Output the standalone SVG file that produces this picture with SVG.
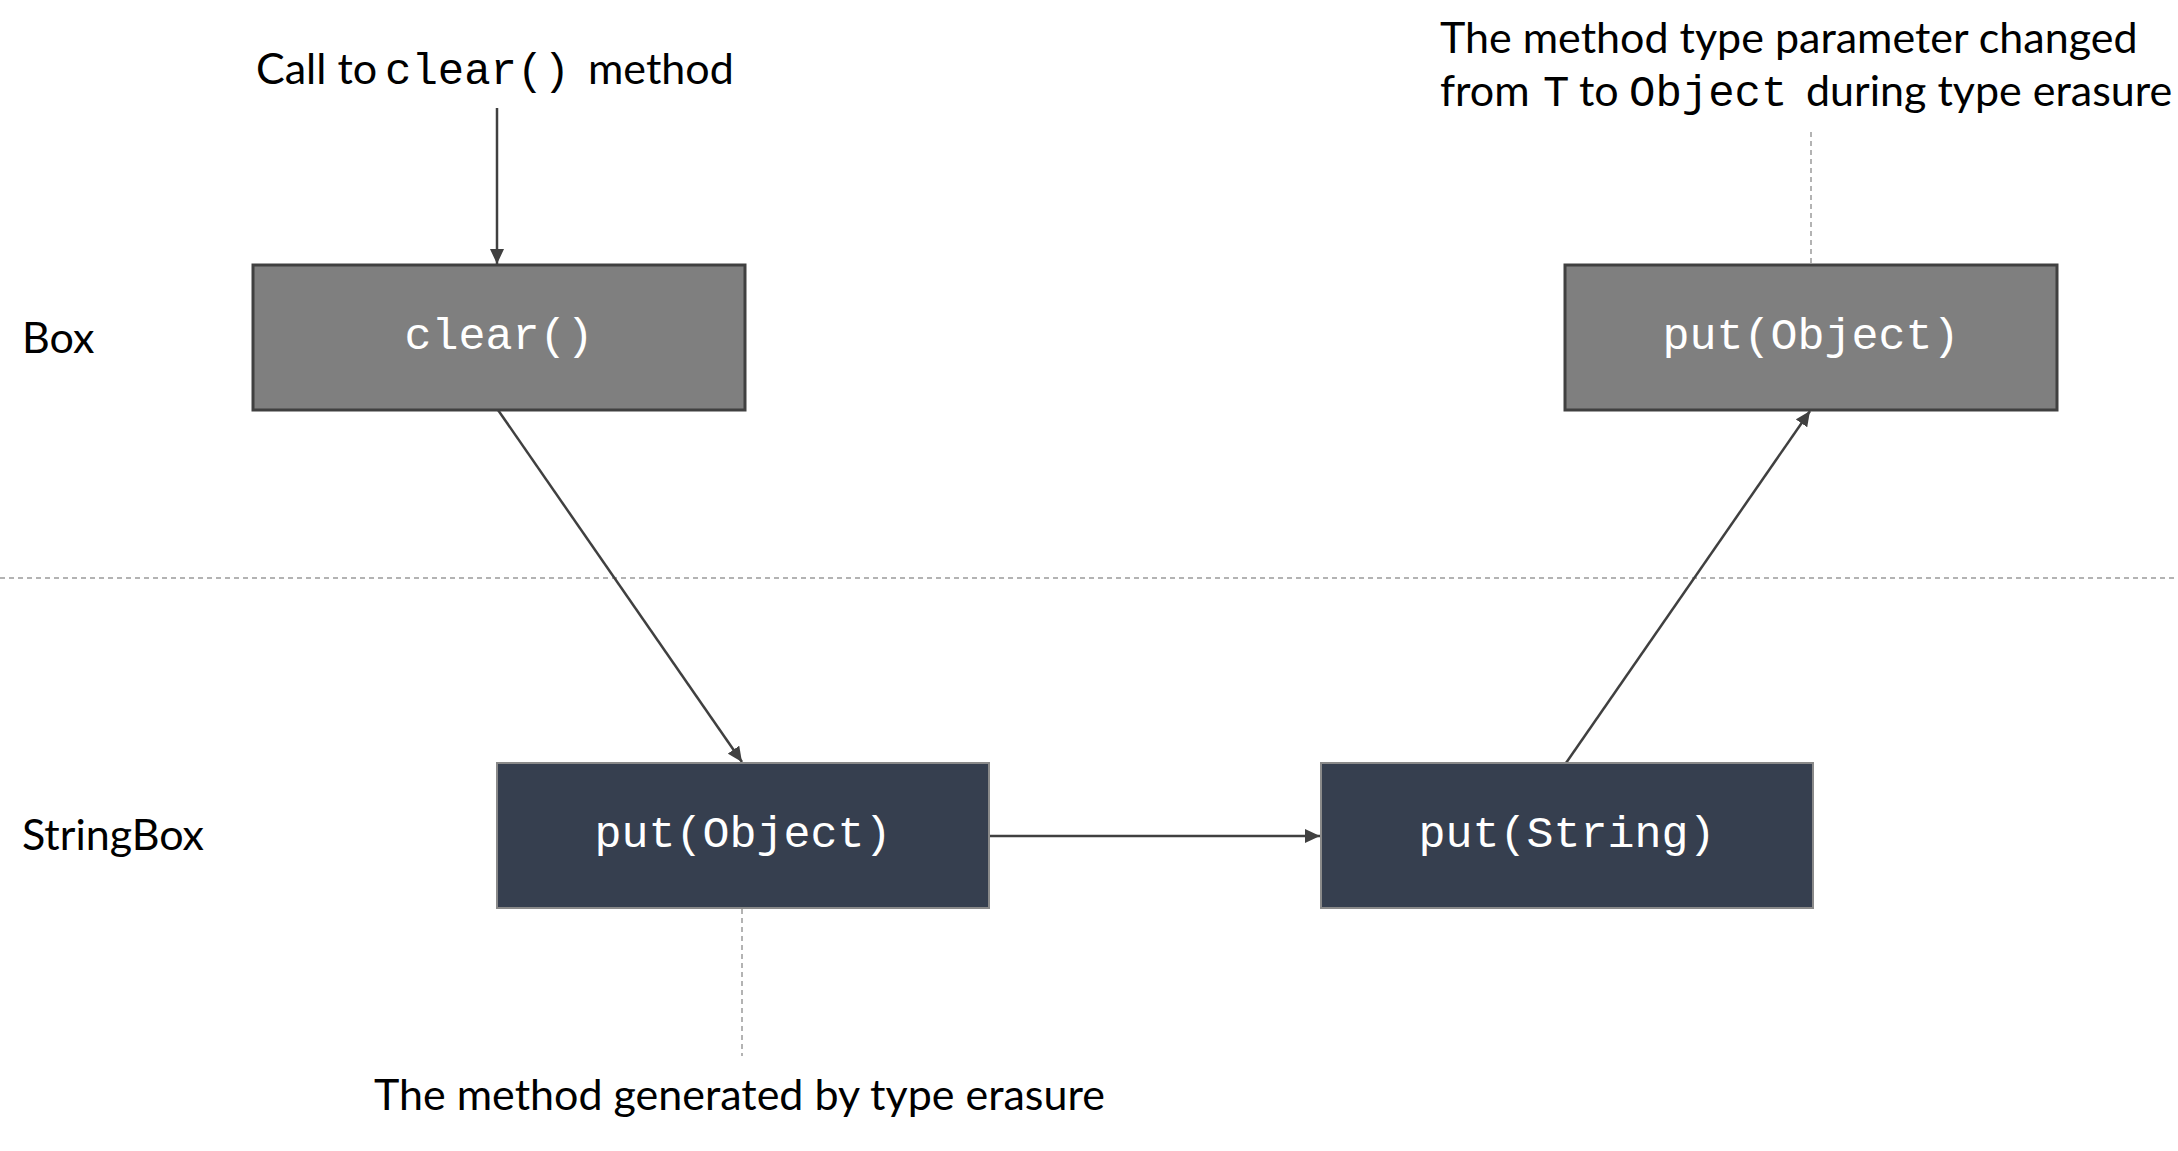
<svg xmlns="http://www.w3.org/2000/svg" width="2178" height="1151" viewBox="0 0 2178 1151">
<style>
.sans{font-family:"Lato","Liberation Sans",sans-serif;font-size:43px;fill:#000}
.mono{font-family:"Liberation Mono","DejaVu Sans Mono",monospace;font-size:44px}
.boxtext{font-family:"Liberation Mono","DejaVu Sans Mono",monospace;font-size:45px;fill:#fff;text-anchor:middle;dominant-baseline:central}
.base{fill:#7f7f7f;stroke:#404040;stroke-width:3}
.sub{fill:#363f4f;stroke:#8a8a8a;stroke-width:2}
.conn{stroke:#404040;stroke-width:2.5;fill:none}
.dash{stroke:#9a9a9a;stroke-width:1.5;stroke-dasharray:5 4;fill:none}
</style>
<defs>
<marker id="arr" markerUnits="userSpaceOnUse" markerWidth="16" markerHeight="14" refX="15" refY="7" orient="auto">
<path d="M0,0 L15,7 L0,14 z" fill="#404040"/>
</marker>
</defs>
<rect width="2178" height="1151" fill="#fff"/>
<g id="guides">
<line class="dash" x1="0" y1="578" x2="2178" y2="578"/>
</g>
<g id="labels">
<text class="sans" x="22" y="353">Box</text>
<text class="sans" x="22" y="850">StringBox</text>
</g>
<g id="connectors">
<line class="conn" x1="497" y1="108" x2="497" y2="264" marker-end="url(#arr)"/>
<line class="conn" x1="498" y1="410" x2="742" y2="762" marker-end="url(#arr)"/>
<line class="conn" x1="989" y1="836" x2="1320" y2="836" marker-end="url(#arr)"/>
<line class="conn" x1="1566" y1="763" x2="1810" y2="411" marker-end="url(#arr)"/>
<line class="dash" x1="1811" y1="132" x2="1811" y2="265"/>
<line class="dash" x1="742" y1="909" x2="742" y2="1056"/>
</g>
<g id="node-clear">
<rect class="base" x="253" y="265" width="492" height="145"/>
<text class="boxtext" x="499" y="337">clear()</text>
</g>
<g id="node-box-put">
<rect class="base" x="1565" y="265" width="492" height="145"/>
<text class="boxtext" x="1811" y="337">put(Object)</text>
</g>
<g id="node-sb-putobject">
<rect class="sub" x="497" y="763" width="492" height="145"/>
<text class="boxtext" x="743" y="835">put(Object)</text>
</g>
<g id="node-sb-putstring">
<rect class="sub" x="1321" y="763" width="492" height="145"/>
<text class="boxtext" x="1567" y="835">put(String)</text>
</g>
<g id="note-call">
<text class="sans" x="256" y="84">Call to <tspan class="mono" x="385">clear()</tspan><tspan x="588">method</tspan></text>
</g>
<g id="note-param">
<text class="sans" x="1440" y="53">The method type parameter changed</text>
<text class="sans" x="1440" y="106">from <tspan class="mono" x="1543">T</tspan><tspan x="1579">to</tspan><tspan class="mono" x="1629">Object</tspan><tspan x="1806">during type erasure</tspan></text>
</g>
<g id="note-generated">
<text class="sans" x="374" y="1110">The method generated by type erasure</text>
</g>
</svg>
